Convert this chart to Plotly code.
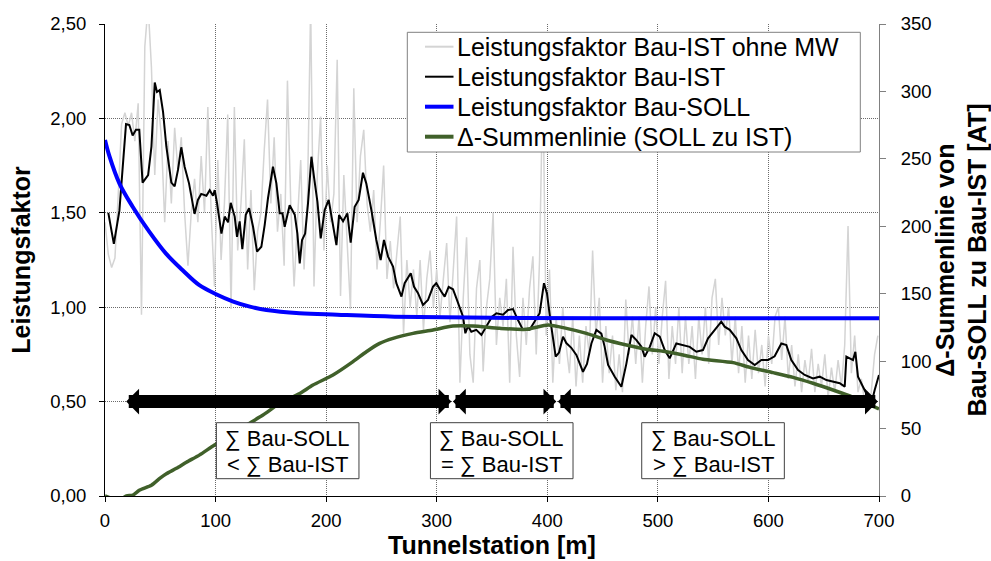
import plotly.graph_objects as go

# ---- data -----------------------------------------------------------------
# raw performance factor (without moving average), every 3 m
raw_station = list(range(0, 700, 3))
raw_factor = [
    1.45, 1.28, 1.21, 1.26, 1.60, 1.97, 2.03, 1.96, 2.03, 1.88,   # 0-27
    2.08, 0.96, 2.38, 2.60, 2.27, 1.70, 2.10, 1.90, 1.45, 1.88,   # 30-57
    1.55, 1.95, 1.72, 1.90, 1.50, 1.22, 1.50, 1.68, 1.45, 1.80,   # 60-87
    1.50, 2.06, 1.50, 1.11, 1.78, 1.25, 1.55, 2.02, 0.99, 2.06,   # 90-117
    1.30, 1.55, 1.89, 1.20, 1.62, 1.09, 1.40, 1.50, 1.83, 2.10,   # 120-147
    1.55, 1.90, 1.40, 1.60, 1.22, 2.20, 1.55, 1.11, 1.45, 1.78,   # 150-177
    1.20, 1.55, 2.60, 1.11, 1.70, 2.01, 1.30, 1.75, 1.45, 1.60,   # 180-207
    2.31, 1.06, 1.70, 1.35, 0.99, 2.16, 1.45, 1.80, 1.94, 1.55,   # 210-237
    1.40, 1.62, 1.20, 1.45, 1.75, 1.15, 1.35, 1.10, 1.30, 1.48,   # 240-267
    0.86, 1.25, 1.00, 1.20, 0.95, 1.25, 0.88, 1.15, 1.30, 1.00,   # 270-297
    1.20, 0.95, 1.15, 1.34, 0.92, 1.20, 1.48, 0.60, 1.05, 1.37,   # 300-327
    0.75, 0.60, 1.10, 1.25, 0.66, 1.00, 1.15, 1.50, 0.80, 1.05,   # 330-357
    0.90, 1.15, 0.60, 1.32, 0.85, 0.63, 1.05, 0.80, 1.10, 1.27,   # 360-387
    0.75, 1.25, 2.20, 0.85, 1.20, 0.60, 0.95, 0.70, 1.00, 0.80,   # 390-417
    0.65, 0.95, 0.58, 0.85, 0.60, 0.90, 0.75, 1.30, 0.85, 1.05,   # 420-447
    0.60, 0.90, 0.65, 0.85, 0.56, 0.75, 0.55, 1.04, 0.75, 0.95,   # 450-477
    0.70, 0.95, 0.60, 0.90, 1.11, 0.75, 1.00, 0.70, 0.95, 1.14,   # 480-507
    0.62, 0.90, 0.70, 1.00, 0.65, 0.95, 0.70, 0.90, 0.62, 0.95,   # 510-537
    0.75, 1.00, 0.70, 1.05, 1.15, 0.80, 1.05, 0.85, 1.00, 0.70,   # 540-567
    0.95, 0.65, 0.90, 0.60, 0.85, 0.62, 0.88, 0.65, 0.80, 0.58,   # 570-597
    0.85, 0.70, 0.95, 1.00, 0.72, 0.95, 0.62, 0.80, 0.58, 0.75,   # 600-627
    0.55, 0.72, 0.60, 0.78, 0.55, 0.70, 0.58, 0.75, 0.52, 0.68,   # 630-657
    0.55, 0.72, 0.58, 0.80, 1.43, 0.65, 0.85, 0.55, 0.62, 0.50,   # 660-687
    0.45, 0.55, 0.75, 0.85,                                       # 690-699
]

# moving-average performance factor (Bau-IST)
ist_station = [
    3, 8, 13, 17, 19, 22, 25, 28, 31, 34, 39, 42, 45, 47, 49.5, 52.5, 55.5,
    60, 63, 66, 69, 72, 76, 81, 84, 87, 91.7, 94.7, 97.7, 99.2, 101.3, 105.3,
    108.3, 111.3, 113.7, 117.3, 119.4, 121.8, 124.2, 127.3, 130.3, 133.9,
    137.5, 141.4, 144.4, 147.4, 151.9, 155, 158, 160.5, 162.5, 167, 171.6,
    174, 176.1, 178.2, 181, 183.6, 186.7, 189, 192.1, 195.1, 198.7, 202.3,
    205.3, 209.3, 211.7, 215.3, 219.2, 222.2, 225.8, 229.4, 233.3, 236.3,
    240.9, 245.4, 249.3, 252.3, 256, 260.5, 263.5, 268.1, 271, 276.5, 279.5,
    283.1, 287.6, 292.1, 296.6, 299.6, 304.2, 307.2, 310.8, 314.7, 317.8,
    320.8, 323.8, 325.9, 328.3, 331.3, 335.8, 340.4, 344.9, 350, 354, 360,
    364.5, 369, 373.5, 378, 384, 388.6, 393.1, 397, 399.7, 402.8, 405.2,
    407.6, 410.6, 414.2, 417.2, 421.7, 426.3, 432.3, 435.9, 439.9, 444.4,
    448.9, 451.9, 455, 461, 467, 471.5, 476.1, 480.6, 485.1, 488.1, 492.7,
    497.2, 501.7, 506.2, 510.7, 516.7, 522.8, 528.8, 534.8, 540.8, 545.4,
    551.4, 557.4, 560.4, 565, 571, 575.5, 581.5, 587.6, 593.6, 599.6, 605.6,
    611.7, 616.2, 620.7, 626.8, 632.8, 640.3, 646.4, 652.4, 658.4, 664.5,
    669, 670.5, 673.5, 676.5, 678.6, 681, 685.5, 690, 693.1, 696.1, 700,
]
ist_factor = [
    1.50, 1.335, 1.51, 1.85, 1.97, 1.965, 1.91, 1.94, 1.94, 1.66, 1.70, 1.85,
    2.19, 2.14, 2.15, 2.035, 1.85,
    1.66, 1.64, 1.727, 1.847, 1.744, 1.656, 1.494, 1.568, 1.60, 1.59, 1.62,
    1.59, 1.62, 1.553, 1.39,
    1.48, 1.45, 1.553, 1.48, 1.373, 1.455, 1.307, 1.49, 1.524, 1.426,
    1.294, 1.32, 1.435, 1.577, 1.744, 1.656, 1.497, 1.497, 1.426, 1.54, 1.49,
    1.39, 1.232, 1.356, 1.39, 1.55, 1.797, 1.69, 1.559, 1.365, 1.515, 1.568,
    1.462, 1.329, 1.488, 1.455, 1.497, 1.342, 1.532, 1.568, 1.712, 1.656,
    1.515, 1.356, 1.25, 1.356, 1.268, 1.215, 1.127, 1.056, 1.127, 1.18, 1.108,
    1.074, 1.012, 1.038, 1.108, 1.127, 1.082, 1.056, 1.108, 1.095, 1.047,
    1.003, 0.95, 0.862, 0.90, 0.87, 0.88, 0.853, 0.90, 0.95, 0.968, 0.96,
    0.985, 0.99, 0.932, 0.88, 0.88, 0.923, 0.968, 1.127, 1.074, 0.932, 0.826,
    0.738, 0.76, 0.844, 0.81, 0.785, 0.747, 0.658, 0.70, 0.808, 0.88,
    0.86, 0.79, 0.694, 0.632, 0.579, 0.70, 0.853, 0.826, 0.791, 0.738, 0.79,
    0.862, 0.844, 0.773, 0.729, 0.808, 0.80, 0.79, 0.764, 0.773, 0.835,
    0.88, 0.923, 0.897, 0.88, 0.835, 0.773, 0.72, 0.694, 0.72, 0.72, 0.74,
    0.808, 0.80, 0.72, 0.667, 0.641, 0.623, 0.632, 0.614, 0.605, 0.597,
    0.579, 0.738, 0.729, 0.72, 0.764, 0.632, 0.579, 0.526, 0.49, 0.561, 0.641,
]

# target performance factor (Bau-SOLL)
soll_station = [0, 4, 13, 25, 40, 55, 70, 85, 100, 116, 131, 146, 176, 210,
                262, 350, 450, 700]
soll_factor = [1.886, 1.80, 1.656, 1.532, 1.40, 1.285, 1.197, 1.118, 1.07,
               1.03, 1.003, 0.985, 0.968, 0.96, 0.95, 0.944, 0.942, 0.941]

# cumulative difference SOLL vs IST [AT] (secondary axis)
delta_station = [0, 5, 10, 15, 19.4, 25.3, 31.4, 42, 49.5, 55.5, 64.6, 73.6,
                 85.6, 99, 112.8, 127.9, 142.9, 158, 176.1, 188.1, 206.2,
                 224.3, 236.4, 248.4, 260.5, 278.6, 296.6, 314.7, 332.8, 357,
                 381.1, 400.7, 417.3, 435.4, 453.5, 471.6, 489.6, 507.7,
                 522.8, 540.8, 568, 583.1, 604.2, 622.3, 640.3, 658.4, 676.5,
                 688.6, 700]
delta_sum = [0, -1.5, -3, -2, 0, 0.7, 4.4, 8, 13, 16.5, 20.5, 25, 30.5, 37.8,
             44, 52.6, 60, 68.7, 76, 82.3, 89.7, 99.6, 107, 113.2, 116.9,
             120.6, 123.1, 126, 126, 124.3, 123.6, 126.8, 124.3, 120.6, 115.7,
             112, 108.8, 107, 104.6, 101.4, 98.9, 95.4, 91.5, 88, 83.6, 78.6,
             73.2, 68.7, 64.5]

# section arrows (from, to) in m and their labels
sections = [(17.8, 313.3), (313.3, 408.2), (408.2, 699.0)]
section_lines = [("∑ Bau-SOLL", "< ∑ Bau-IST"),
                 ("∑ Bau-SOLL", "= ∑ Bau-IST"),
                 ("∑ Bau-SOLL", "> ∑ Bau-IST")]
label_station = [165.2, 358.8, 549.9]
arrow_level = 0.50

series_names = ["Leistungsfaktor Bau-IST ohne MW", "Leistungsfaktor Bau-IST",
                "Leistungsfaktor Bau-SOLL", "Δ-Summenlinie (SOLL zu IST)"]
series_colors = ["#d4d4d4", "#000000", "#0000ff", "#40602a"]
series_widths = [1.5, 2, 4, 3.5]
legend_widths = [2, 2, 4, 4]

# ---- geometry -------------------------------------------------------------
FONT = "Liberation Sans, Arial, sans-serif"
W, H = 991, 561
PL, PT, PR, PB = 105, 24, 112, 65          # margins in px
PW, PH = W - PL - PR, H - PT - PB          # plot area size
X_RANGE, Y_RANGE = (0, 700), (0, 2.5)


def px_to_paper_x(px):
    return (px - PL) / PW


def px_to_paper_y(py):
    return (H - PB - py) / PH


def px_len_to_x(dpx):
    return dpx / PW * (X_RANGE[1] - X_RANGE[0])


def px_to_y(py):
    return Y_RANGE[0] + (H - PB - py) / PH * (Y_RANGE[1] - Y_RANGE[0])


fig = go.Figure()
fig.add_trace(go.Scatter(x=raw_station, y=raw_factor, mode="lines",
                         name=series_names[0],
                         line=dict(color=series_colors[0], width=series_widths[0])))
fig.add_trace(go.Scatter(x=ist_station, y=ist_factor, mode="lines",
                         name=series_names[1],
                         line=dict(color=series_colors[1], width=series_widths[1])))
fig.add_trace(go.Scatter(x=soll_station, y=soll_factor, mode="lines",
                         name=series_names[2],
                         line=dict(color=series_colors[2], width=series_widths[2],
                                   shape="spline")))
fig.add_trace(go.Scatter(x=delta_station, y=delta_sum, mode="lines",
                         name=series_names[3], yaxis="y2",
                         line=dict(color=series_colors[3], width=series_widths[3],
                                   shape="spline", smoothing=0.6)))

shapes = []
annotations = []

# double-headed section arrows
for (a, b) in sections:
    annotations.append(dict(
        x=b, y=arrow_level, ax=a, ay=arrow_level,
        xref="x", yref="y", axref="x", ayref="y",
        text="", showarrow=True, arrowside="end+start",
        arrowhead=1, startarrowhead=1, arrowsize=0.33, startarrowsize=0.33,
        arrowwidth=13, arrowcolor="#000000", standoff=0, startstandoff=0))

# framed section labels
box_w = px_len_to_x(142.6)
box_top, box_bot = px_to_y(422.7), px_to_y(478.7)
line_y = [px_to_y(438.5), px_to_y(464.5)]
for s, lines in zip(label_station, section_lines):
    shapes.append(dict(type="rect", xref="x", yref="y", layer="above",
                       x0=s - box_w / 2, x1=s + box_w / 2, y0=box_bot, y1=box_top,
                       line=dict(color="#404040", width=1), fillcolor="#ffffff"))
    for t, yy in zip(lines, line_y):
        annotations.append(dict(x=s, y=yy, xref="x", yref="y", text=t,
                                showarrow=False, xanchor="center", yanchor="middle",
                                font=dict(family=FONT, size=22, color="#000000")))

# legend box
shapes.append(dict(type="rect", xref="paper", yref="paper", layer="above",
                   x0=px_to_paper_x(407.3), x1=px_to_paper_x(860.3),
                   y0=px_to_paper_y(152), y1=px_to_paper_y(32.3),
                   line=dict(color="#808080", width=1), fillcolor="#ffffff"))
row_py = [46.7, 76.7, 106.7, 136.7]
for name, col, lw, py in zip(series_names, series_colors, legend_widths, row_py):
    shapes.append(dict(type="line", xref="paper", yref="paper", layer="above",
                       x0=px_to_paper_x(425), x1=px_to_paper_x(453.5),
                       y0=px_to_paper_y(py), y1=px_to_paper_y(py),
                       line=dict(color=col, width=lw)))
    annotations.append(dict(x=px_to_paper_x(455), y=px_to_paper_y(py),
                            xref="paper", yref="paper", text=name,
                            showarrow=False, xanchor="left", yanchor="middle",
                            font=dict(family=FONT, size=25, color="#000000")))

axis_common = dict(automargin=False, zeroline=False,
                   tickfont=dict(family=FONT, size=18.5, color="#000000"))

fig.update_layout(
    width=W, height=H,
    margin=dict(l=PL, r=PR, t=PT, b=PB, autoexpand=False),
    paper_bgcolor="#ffffff", plot_bgcolor="#ffffff",
    font=dict(family=FONT, color="#000000"),
    separators=",.",
    showlegend=False,
    shapes=shapes,
    annotations=annotations,
    xaxis=dict(range=list(X_RANGE), dtick=100, tick0=0,
               showline=True, linecolor="#000000", linewidth=1,
               ticks="outside", ticklen=5, tickcolor="#000000",
               showgrid=True, gridcolor="#6a6a6a", griddash="1px,1px",
               gridwidth=1, ticklabelstandoff=3,
               title=dict(text="<b>Tunnelstation [m]</b>",
                          font=dict(family=FONT, size=25), standoff=5),
               **axis_common),
    yaxis=dict(range=list(Y_RANGE), dtick=0.5, tick0=0, tickformat=".2f",
               showline=True, linecolor="#000000", linewidth=1,
               ticks="outside", ticklen=5, tickcolor="#000000",
               showgrid=True, gridcolor="#6a6a6a", griddash="1px,1px",
               gridwidth=1, ticklabelstandoff=9,
               title=dict(text="<b>Leistungsfaktor</b>",
                          font=dict(family=FONT, size=25), standoff=12),
               **axis_common),
    yaxis2=dict(range=[0, 350], dtick=50, tick0=0, overlaying="y",
                side="right", showline=True, linecolor="#808080",
                linewidth=1, ticks="outside", ticklen=6, tickcolor="#808080",
                showgrid=False, ticklabelstandoff=11,
                title=dict(text="<b>Δ-Summenlinie von<br>Bau-SOLL zu Bau-IST [AT]</b>",
                           font=dict(family=FONT, size=25), standoff=8),
                **axis_common),
)

fig.write_html("out.html")
